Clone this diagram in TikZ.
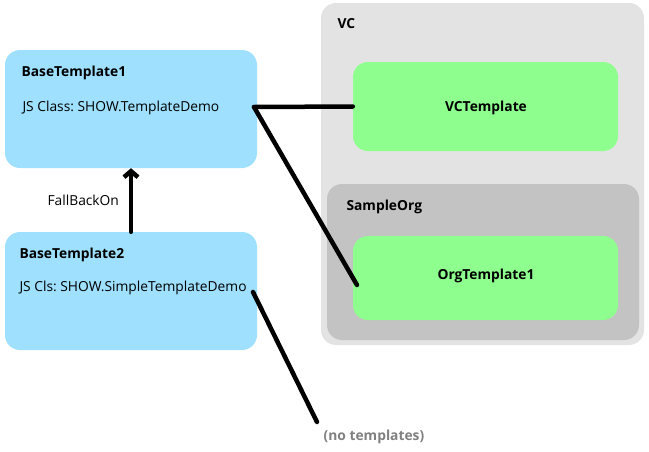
\documentclass[tikz,border=0pt]{standalone}
\usepackage{fontspec}
\setmainfont{Open Sans}
\usetikzlibrary{arrows.meta}
\definecolor{tplblue}{RGB}{158,224,254}
\definecolor{tplgreen}{RGB}{142,255,142}
\definecolor{vcgray}{RGB}{227,227,227}
\definecolor{orggray}{RGB}{195,195,195}
\definecolor{notegray}{RGB}{128,128,128}
\frenchspacing
\begin{document}
\begin{tikzpicture}[x=1pt, y=-1pt,
    font=\fontsize{13.8}{16}\selectfont,
    box/.style={rectangle, rounded corners=15pt, inner sep=0pt},
    title/.style={anchor=west, font=\fontsize{13.8}{16}\selectfont\bfseries},
    link/.style={line width=4.5pt, line cap=round}]
    \useasboundingbox (0,0) rectangle (649,451);

    \node[box, fill=tplblue, minimum width=252pt, minimum height=118pt] (base1) at (131,109) {};
    \node[box, fill=tplblue, minimum width=252pt, minimum height=118pt] (base2) at (131,291) {};
    \node[box, fill=vcgray, minimum width=323pt, minimum height=342pt] (vc) at (482.5,174) {};
    \node[box, fill=orggray, minimum width=312pt, minimum height=156pt] (org) at (483,262) {};
    \node[box, fill=tplgreen, minimum width=265pt, minimum height=89pt] (vctpl) at (485.5,106.5) {};
    \node[box, fill=tplgreen, minimum width=265pt, minimum height=84pt] (orgtpl) at (485.5,278) {};

    \node[title] (t1) at (18,73) {BaseTemplate1};
    \node[anchor=west] (cls1) at (19,108) {JS Class: SHOW.TemplateDemo};
    \node[title] (t2) at (16,255) {BaseTemplate2};
    \node[anchor=west] (cls2) at (16,288) {JS Cls: SHOW.SimpleTemplateDemo};
    \node[title] (tvc) at (334,24) {VC};
    \node[title] (torg) at (343,207) {SampleOrg};
    \node[font=\fontsize{13.8}{16}\selectfont\bfseries] (tvct) at (486,108) {VCTemplate};
    \node[font=\fontsize{13.8}{16}\selectfont\bfseries] (torgt) at (486,276) {OrgTemplate1};
    \node[anchor=west] (fb) at (44,200) {FallBackOn};
    \node[font=\fontsize{13.8}{16}\selectfont\bfseries, text=notegray] (none) at (374,437) {(no templates)};

    \coordinate (j1) at (254,107);
    \coordinate (j2) at (253,292);
    \coordinate (k2) at (357,285);
    \coordinate (n2) at (317,422);

    \draw[link, -{Straight Barb[length=6pt, width=14pt]}] (base2.north) -- (base1.south);
    \draw[link] (j1) -- (vctpl.west);
    \draw[link] (j1) -- (k2);
    \draw[link] (j2) -- (n2);
\end{tikzpicture}
\end{document}
